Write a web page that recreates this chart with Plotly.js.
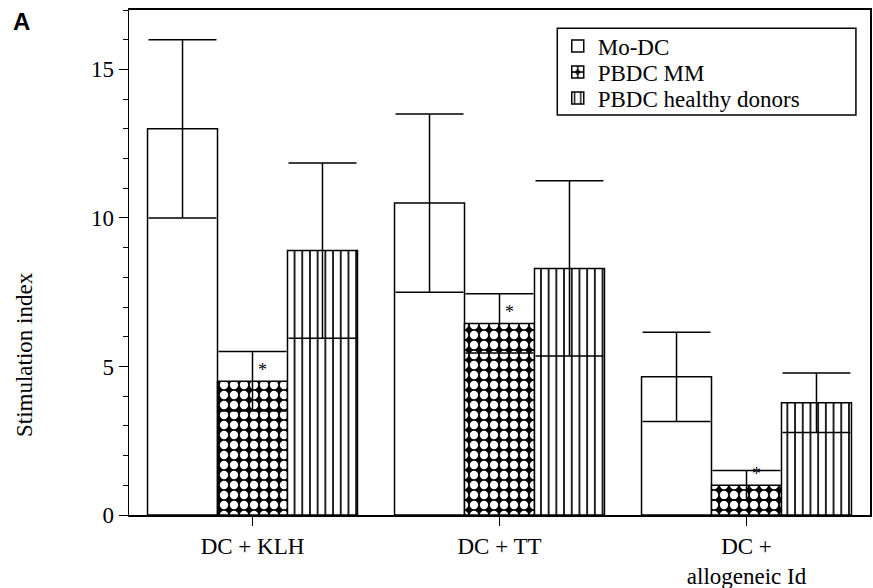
<!DOCTYPE html>
<html>
<head>
<meta charset="utf-8">
<script src="https://cdn.plot.ly/plotly-3.0.1.min.js"></script>
<style>html,body{margin:0;padding:0;background:#fff;}</style>
</head>
<body>
<div id="chart" style="width:873px;height:588px;"></div>
<script>
// Data
const categories = ["DC + KLH", "DC + TT", "DC +<br>allogeneic Id"];
const seriesNames = ["Mo-DC", "PBDC MM", "PBDC healthy donors"];
const moDC = [13.0, 10.5, 4.65];
const moDCErr = [3.0, 3.0, 1.5];
const pbdcMM = [4.5, 6.45, 1.0];
const pbdcMMErr = [1.0, 1.0, 0.5];
const pbdcHealthy = [8.9, 8.3, 3.78];
const pbdcHealthyErr = [2.95, 2.95, 1.0];
const yTickVals = [0, 5, 10, 15];
const yTitle = "Stimulation index";
const panelLabel = "A";

const serif = "Liberation Serif";
const errStyle = (arr) => ({type: "data", array: arr, visible: true, color: "black", thickness: 1.5, width: 34});

const traces = [
  {type: "bar", name: seriesNames[0], legend: "legend", x: categories, y: moDC, error_y: errStyle(moDCErr),
   marker: {color: "white", line: {color: "black", width: 1.5}}},
  {type: "bar", name: seriesNames[1], legend: "legend2", x: categories, y: pbdcMM, error_y: errStyle(pbdcMMErr),
   marker: {color: "black", line: {color: "black", width: 1.5},
            pattern: {shape: ".", fgcolor: "white", bgcolor: "black", size: 10, solidity: 0.55, fillmode: "replace"}}},
  {type: "bar", name: seriesNames[2], legend: "legend3", x: categories, y: pbdcHealthy, error_y: errStyle(pbdcHealthyErr),
   marker: {color: "white", line: {color: "black", width: 1.5},
            pattern: {shape: "|", fgcolor: "black", bgcolor: "white", size: 7.7, solidity: 0.22, fillmode: "replace"}}}
];

const stars = categories.map((c, i) => ({
  x: c, y: pbdcMM[i], xref: "x", yref: "y", yanchor: "middle",
  text: "*", showarrow: false, xshift: 10, yshift: 11, font: {family: serif, size: 18, color: "#000000"}
}));

const legendBase = (yc) => ({x: 0.5786, y: yc, xanchor: "left", yanchor: "middle", bgcolor: "rgba(0,0,0,0)",
  borderwidth: 0, font: {family: serif, size: 23, color: "black"}});

const layout = {
  width: 873, height: 588,
  margin: {l: 129, r: 3, t: 10, b: 73},
  paper_bgcolor: "white", plot_bgcolor: "white",
  barmode: "group", bargap: 0.15, bargroupgap: 0,
  showlegend: true,
  legend: legendBase(0.9287),
  legend2: legendBase(0.8772),
  legend3: legendBase(0.8257),
  xaxis: {type: "category", range: [-0.5, 2.5], showline: true, linecolor: "black", linewidth: 2,
          mirror: true, ticks: "outside", ticklen: 9, tickcolor: "black", tickwidth: 1,
          tickfont: {family: serif, size: 23, color: "black"}, showgrid: false, zeroline: false, fixedrange: true},
  yaxis: {range: [0, 17], tickvals: yTickVals, showline: true, linecolor: "black", linewidth: 1.5,
          mirror: true, ticks: "outside", ticklen: 9, tickcolor: "black", tickwidth: 1,
          minor: {dtick: 1, ticks: "outside", ticklen: 5, tickcolor: "black", tickwidth: 1, showgrid: false},
          tickfont: {family: serif, size: 23, color: "black"}, showgrid: false, zeroline: false,
          automargin: false, fixedrange: true},
  shapes: [{type: "rect", xref: "paper", yref: "paper", x0: 0.578, x1: 0.981, y0: 0.792, y1: 0.964,
            line: {color: "black", width: 1.5}, fillcolor: "rgba(0,0,0,0)"}],
  annotations: stars.concat([
    {x: (21 - 129) / 741, y: 1 - (21 - 10) / 505, xref: "paper", yref: "paper", xanchor: "center", yanchor: "middle",
     text: "<b>" + panelLabel + "</b>", showarrow: false,
     font: {family: "Liberation Sans", size: 24, color: "black"}},
    {x: (24 - 129) / 741, y: 1 - (355 - 10) / 505, xref: "paper", yref: "paper", xanchor: "center", yanchor: "middle",
     text: yTitle, textangle: -90, showarrow: false,
     font: {family: serif, size: 23, color: "black"}}
  ])
};

Plotly.newPlot("chart", traces, layout, {displayModeBar: false, staticPlot: true});
</script>
</body>
</html>
